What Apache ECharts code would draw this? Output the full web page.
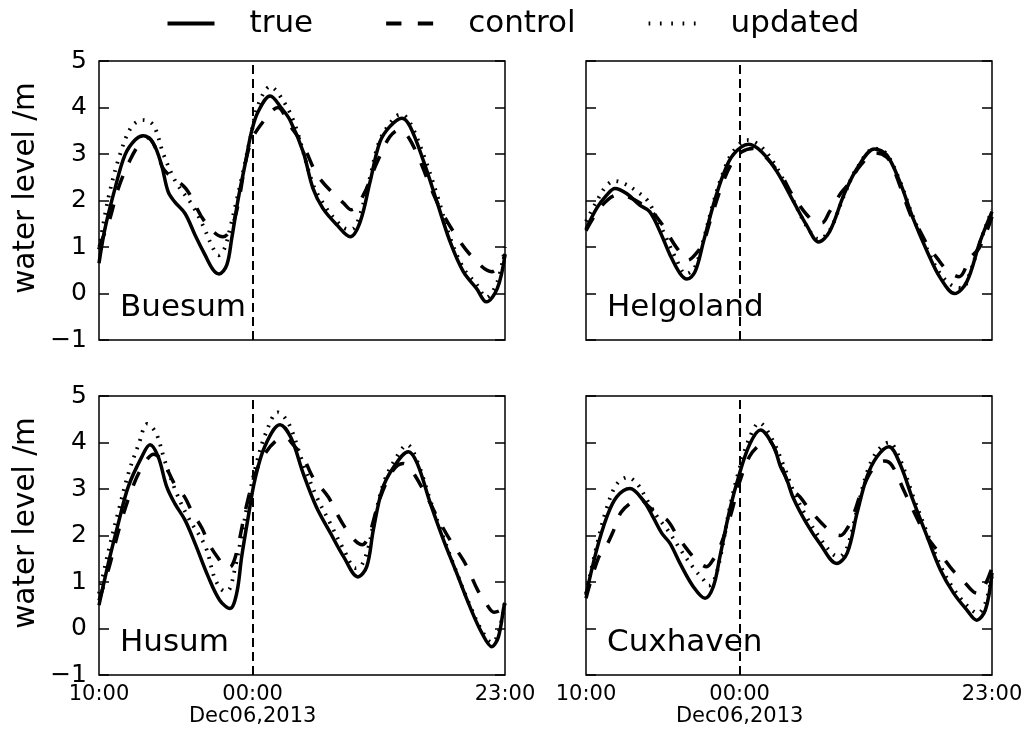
<!DOCTYPE html>
<html>
<head>
<meta charset="utf-8">
<script src="https://cdn.jsdelivr.net/npm/echarts@6/dist/echarts.min.js"></script>
<style>
  html, body { margin: 0; padding: 0; background: #ffffff; }
  #chart { width: 1027px; height: 733px; }
</style>
</head>
<body>
<div id="chart"></div>
<script>
// Time axis: hours after 10:00 on 5 Dec 2013 (00:00 Dec 6 = 14 h, 23:00 Dec 6 = 37 h)
const xTickHours = [0, 14, 37];
const xTickLabels = ['10:00', '00:00\nDec06,2013', '23:00'];
const cutHour = 14;
const stations = ['Buesum', 'Helgoland', 'Husum', 'Cuxhaven'];
const seriesNames = ['true', 'control', 'updated'];
const yMin = -1, yMax = 5, yStep = 1;

// Water level (m) as [hour, level] pairs
const buesumTrue = [[0,0.65],[0.55,1.4],[1.46,2.26],[2.37,2.98],[3.28,3.3],[4.04,3.39],[4.95,3.23],[5.7,2.76],[6.3,2.19],[6.9,1.97],[7.84,1.72],[8.75,1.26],[9.66,0.83],[10.4,0.51],[10.94,0.42],[11.64,0.61],[12.1,1.19],[12.7,2.05],[13.3,2.76],[13.9,3.48],[14.5,3.91],[15.6,4.25],[16.65,3.98],[17.4,3.73],[18.6,3.05],[19.5,2.26],[20.4,1.83],[21.7,1.47],[22.9,1.22],[23.8,1.54],[24.7,2.4],[25.6,3.26],[26.5,3.59],[27.6,3.77],[28.35,3.59],[29.6,2.83],[30.8,1.97],[32.0,1.11],[33.2,0.47],[34.4,0.11],[35.3,-0.18],[36.3,0.11],[37,0.83]];
const buesumControl = [[0,1.0],[0.9,1.54],[1.76,2.26],[2.83,2.87],[3.8,3.25],[4.5,3.35],[5.2,3.1],[5.93,2.66],[7.9,2.26],[9.66,1.54],[11.3,1.22],[11.8,1.3],[12.5,1.73],[13.8,3.23],[15.3,3.8],[16.3,4.0],[17.3,3.65],[18.6,3.19],[20.0,2.51],[22.3,1.94],[23.0,1.8],[24.1,2.12],[25.3,2.8],[26.5,3.37],[27.4,3.52],[28.5,3.24],[30.8,1.97],[32.3,1.33],[34.0,0.79],[35.8,0.47],[36.8,0.72],[37,0.85]];
const buesumUpdated = [[0,0.95],[0.85,2.05],[1.9,2.98],[2.98,3.59],[4.0,3.73],[4.95,3.62],[5.9,2.98],[7.0,2.4],[8.5,1.9],[9.5,1.45],[10.4,0.97],[10.9,0.82],[11.4,0.95],[11.8,1.26],[13.0,2.48],[13.8,3.35],[14.5,4.05],[15.6,4.45],[16.9,4.1],[17.9,3.6],[19.5,2.35],[20.4,1.95],[21.5,1.6],[22.7,1.38],[23.2,1.4],[23.8,1.7],[24.7,2.5],[25.6,3.3],[27.0,3.8],[27.6,3.85],[28.4,3.65],[29.7,2.9],[30.9,2.05],[32.0,1.2],[33.2,0.55],[34.4,0.2],[35.3,-0.08],[36.3,0.25],[37,1.0]];

const helgolandTrue = [[0,1.38],[0.97,1.83],[1.9,2.12],[2.64,2.26],[3.7,2.15],[4.9,1.9],[5.8,1.76],[6.75,1.33],[7.66,0.83],[8.57,0.43],[9.2,0.31],[9.94,0.47],[10.7,1.11],[11.6,1.9],[12.5,2.55],[13.4,2.98],[14.8,3.21],[16.0,3.05],[17.4,2.62],[18.9,1.98],[20.1,1.47],[21.2,1.11],[22.2,1.33],[23.5,2.12],[24.7,2.69],[26.3,3.11],[27.4,2.98],[28.6,2.4],[29.8,1.62],[31.1,0.9],[32.3,0.33],[33.6,0.0],[34.7,0.25],[35.9,1.11],[37,1.76]];
const helgolandControl = [[0,1.35],[1.0,1.75],[2.0,2.02],[2.9,2.12],[3.8,2.08],[4.9,1.95],[5.8,1.8],[6.75,1.55],[8.3,0.97],[9.3,0.72],[10.0,0.85],[10.7,1.1],[11.3,1.55],[12.5,2.4],[13.4,2.85],[14.2,3.05],[15.2,3.12],[16.3,2.95],[17.9,2.5],[18.6,2.2],[19.3,1.95],[20.1,1.7],[21.0,1.52],[21.5,1.52],[22.2,1.76],[23.2,2.15],[23.9,2.35],[25.0,2.75],[26.4,3.02],[27.4,2.93],[28.0,2.7],[29.7,1.62],[30.3,1.4],[31.1,1.05],[32.0,0.76],[32.9,0.5],[34.0,0.36],[35.0,0.76],[35.9,1.0],[37,1.65]];
const helgolandUpdated = [[0,1.55],[0.9,1.95],[1.8,2.3],[2.6,2.42],[3.6,2.35],[4.6,2.2],[5.6,2.0],[6.5,1.6],[7.3,1.2],[8.2,0.75],[9.1,0.42],[9.9,0.55],[10.7,1.15],[11.6,1.95],[12.5,2.6],[13.4,3.05],[14.7,3.3],[16.0,3.15],[17.4,2.7],[18.9,2.0],[20.1,1.45],[21.2,1.17],[22.2,1.35],[23.5,2.1],[24.7,2.7],[26.3,3.12],[27.4,3.0],[28.6,2.42],[29.8,1.65],[31.1,0.95],[32.3,0.42],[33.5,0.15],[34.3,0.12],[35.0,0.45],[35.9,1.1],[37,1.8]];

const husumTrue = [[0,0.5],[0.85,1.4],[1.76,2.26],[2.67,3.05],[3.9,3.69],[4.65,3.95],[5.4,3.69],[6.17,3.05],[6.9,2.69],[7.84,2.33],[8.75,1.83],[9.96,1.11],[11.0,0.61],[11.94,0.43],[12.55,0.76],[13.0,1.54],[13.6,2.4],[14.2,3.19],[15.1,3.91],[16.5,4.38],[17.5,4.1],[18.6,3.34],[19.8,2.62],[21.1,2.05],[22.3,1.54],[23.6,1.11],[24.4,1.33],[25.0,2.12],[25.8,2.98],[26.8,3.45],[28.2,3.8],[29.0,3.55],[30.2,2.69],[31.4,1.9],[32.6,1.19],[33.8,0.47],[34.9,-0.1],[35.8,-0.39],[36.4,-0.18],[36.9,0.47],[37,0.55]];
const husumControl = [[0,0.6],[0.9,1.3],[1.9,2.2],[3.0,3.0],[4.0,3.5],[5.0,3.75],[5.8,3.6],[6.9,3.1],[7.8,2.83],[8.5,2.5],[9.4,2.15],[10.0,1.83],[10.9,1.5],[11.6,1.3],[12.1,1.35],[12.6,1.7],[13.4,2.6],[14.2,3.3],[15.1,3.75],[16.2,4.05],[17.0,4.1],[17.7,3.95],[18.6,3.69],[19.5,3.25],[20.9,2.83],[21.5,2.55],[22.4,2.18],[23.3,1.9],[24.0,1.8],[24.6,2.0],[25.6,2.8],[26.8,3.4],[27.7,3.55],[28.5,3.4],[30.2,2.69],[30.8,2.4],[32.0,1.9],[33.2,1.47],[33.8,1.19],[34.5,0.83],[35.2,0.57],[36.0,0.35],[36.6,0.4],[37,0.55]];
const husumUpdated = [[0,0.75],[0.9,1.7],[1.8,2.55],[2.7,3.35],[3.6,3.95],[4.4,4.4],[5.2,4.2],[6.0,3.6],[7.0,2.95],[8.1,2.4],[9.7,1.76],[10.6,1.05],[11.5,0.8],[11.9,0.85],[12.4,1.3],[13.0,2.0],[13.6,2.75],[14.3,3.5],[15.2,4.2],[16.3,4.65],[17.3,4.4],[18.6,3.55],[19.8,2.85],[21.1,2.25],[22.3,1.7],[23.4,1.3],[23.9,1.35],[24.5,1.7],[25.1,2.35],[25.9,3.1],[26.9,3.6],[28.1,3.95],[29.0,3.6],[30.2,2.75],[31.4,1.95],[32.6,1.2],[33.8,0.5],[34.9,-0.05],[35.8,-0.3],[36.4,-0.1],[37,0.6]];

const cuxhavenTrue = [[0,0.72],[0.97,1.69],[1.9,2.4],[2.8,2.83],[4.0,3.01],[5.2,2.76],[6.1,2.4],[6.9,2.05],[7.66,1.83],[8.57,1.4],[9.78,0.9],[10.85,0.65],[11.6,0.9],[12.2,1.54],[13.1,2.55],[14.0,3.34],[14.95,3.98],[15.9,4.27],[17.1,3.91],[17.7,3.5],[18.3,3.2],[18.9,2.8],[20.1,2.26],[21.3,1.83],[22.85,1.4],[23.8,1.62],[24.7,2.48],[25.6,3.26],[26.5,3.69],[27.6,3.91],[28.6,3.55],[29.8,2.76],[31.1,1.97],[32.3,1.26],[33.5,0.76],[34.7,0.4],[35.6,0.18],[36.4,0.4],[37,1.2]];
const cuxhavenControl = [[0,0.65],[1.1,1.5],[1.9,1.8],[2.5,2.1],[3.2,2.5],[4.2,2.72],[4.9,2.78],[5.6,2.65],[6.5,2.45],[7.4,2.33],[8.3,2.0],[8.8,1.83],[9.8,1.54],[11.0,1.33],[11.5,1.45],[12.2,1.75],[13.2,2.45],[14.0,3.15],[14.9,3.7],[15.8,3.95],[16.6,4.05],[17.4,3.75],[18.6,3.05],[19.5,2.83],[20.4,2.55],[21.5,2.26],[22.5,2.05],[23.2,2.0],[23.8,2.15],[24.3,2.4],[25.2,3.0],[26.2,3.45],[27.2,3.6],[27.9,3.5],[29.0,2.95],[30.7,2.12],[31.5,1.83],[32.5,1.54],[33.4,1.26],[34.3,1.05],[35.3,0.79],[35.8,0.75],[36.3,0.9],[37,1.3]];
const cuxhavenUpdated = [[0,0.75],[1.0,1.8],[1.9,2.6],[2.8,3.1],[3.8,3.25],[4.7,3.1],[5.6,2.75],[6.5,2.4],[7.5,2.1],[8.6,1.7],[9.8,1.3],[10.7,1.05],[11.2,0.92],[11.7,1.05],[12.3,1.6],[13.1,2.6],[14.0,3.45],[14.9,4.1],[15.8,4.42],[16.9,4.1],[18.1,3.45],[19.0,2.9],[20.1,2.4],[21.3,1.95],[22.5,1.6],[23.1,1.55],[23.8,1.75],[24.7,2.55],[25.6,3.35],[26.5,3.8],[27.6,4.0],[28.6,3.65],[29.8,2.85],[31.1,2.05],[32.3,1.35],[33.5,0.85],[34.7,0.5],[35.7,0.33],[36.4,0.55],[37,1.15]];

const panelData = [
  [buesumTrue, buesumControl, buesumUpdated],
  [helgolandTrue, helgolandControl, helgolandUpdated],
  [husumTrue, husumControl, husumUpdated],
  [cuxhavenTrue, cuxhavenControl, cuxhavenUpdated]
];

const FONT = 'DejaVu Sans';
const panelLeft = [99, 586];
const panelTop = [61, 396];
const panelW = 406, panelH = 279;

const lineStyles = [
  { type: 'solid', width: 3.5 },
  { type: [15, 15], width: 3.5 },
  { type: [1.8, 7], width: 3.8 }
];

// Legend keys drawn as filled shapes: a bar, two dashes, five dots
const legendIcons = [
  'path://M0,0H47V4H0Z',
  'path://M0,0H15V4H0ZM31,0H46V4H31Z',
  'path://M0,0H1.6V4H0ZM10.7,0H12.3V4H10.7ZM21.4,0H23V4H21.4ZM32.1,0H33.7V4H32.1ZM42.8,0H44.4V4H42.8Z'
];

const grids = [], xAxes = [], yAxes = [], series = [], titles = [], graphics = [];

stations.forEach((name, g) => {
  const col = g % 2, row = Math.floor(g / 2);
  const left = panelLeft[col], top = panelTop[row];
  grids.push({
    left: left, top: top, width: panelW, height: panelH,
    show: true, borderColor: '#000', borderWidth: 1.5, backgroundColor: '#fff'
  });
  xAxes.push({
    type: 'value', gridIndex: g, min: xTickHours[0], max: xTickHours[2], interval: 1,
    axisLine: { show: false }, axisTick: { show: false }, splitLine: { show: false },
    axisLabel: {
      show: row === 1, margin: 9, fontFamily: FONT, fontSize: 21, color: '#000', lineHeight: 22,
      formatter: v => { const i = xTickHours.indexOf(v); return i >= 0 ? xTickLabels[i] : ''; }
    }
  });
  ['left', 'right'].forEach(pos => {
    yAxes.push({
      type: 'value', gridIndex: g, position: pos, min: yMin, max: yMax, interval: yStep,
      axisLine: { show: false }, splitLine: { show: false },
      axisTick: { show: true, inside: true, length: 10, lineStyle: { color: '#000', width: 1.5 } },
      axisLabel: {
        show: pos === 'left' && col === 0, margin: 12, fontFamily: FONT, fontSize: 25, color: '#000',
        formatter: v => (v < 0 ? '\u2212' + Math.abs(v) : String(v))
      }
    });
  });
  panelData[g].forEach((data, k) => {
    const s = {
      name: seriesNames[k], type: 'line', xAxisIndex: g, yAxisIndex: 2 * g,
      data: data, symbol: 'none', smooth: 0.35, z: 3 + k,
      itemStyle: { color: '#000' },
      lineStyle: Object.assign({ color: '#000' }, lineStyles[k])
    };
    if (k === 0) {
      s.markLine = {
        silent: true, symbol: ['none', 'none'], label: { show: false }, animation: false,
        lineStyle: { color: '#000', type: [9, 5], width: 2 },
        emphasis: { disabled: true },
        data: [{ xAxis: cutHour }]
      };
    }
    series.push(s);
  });
  titles.push({
    text: name, left: left + 21, top: top + panelH - 48, padding: 0,
    textStyle: { fontFamily: FONT, fontSize: 31, fontWeight: 'normal', color: '#000' }
  });
  if (col === 0) {
    graphics.push({
      type: 'text', x: 26, y: top + 127, rotation: Math.PI / 2,
      style: { text: 'water level /m', font: '29.5px "DejaVu Sans"', fill: '#000', align: 'center', verticalAlign: 'middle' }
    });
  }
});

const chart = echarts.init(document.getElementById('chart'), null, { renderer: 'canvas' });
chart.setOption({
  animation: false,
  backgroundColor: '#fff',
  title: titles,
  legend: {
    data: seriesNames.map((n, i) => ({ name: n, icon: legendIcons[i] })),
    top: 8, left: 'center', padding: 0,
    itemWidth: 47, itemHeight: 4, itemGap: 73, symbolKeepAspect: false,
    itemStyle: { color: '#000', borderWidth: 0 },
    textStyle: { fontFamily: FONT, fontSize: 31, color: '#000', padding: [0, 0, 0, 30] }
  },
  grid: grids,
  xAxis: xAxes,
  yAxis: yAxes,
  series: series,
  graphic: graphics
});
</script>
</body>
</html>
